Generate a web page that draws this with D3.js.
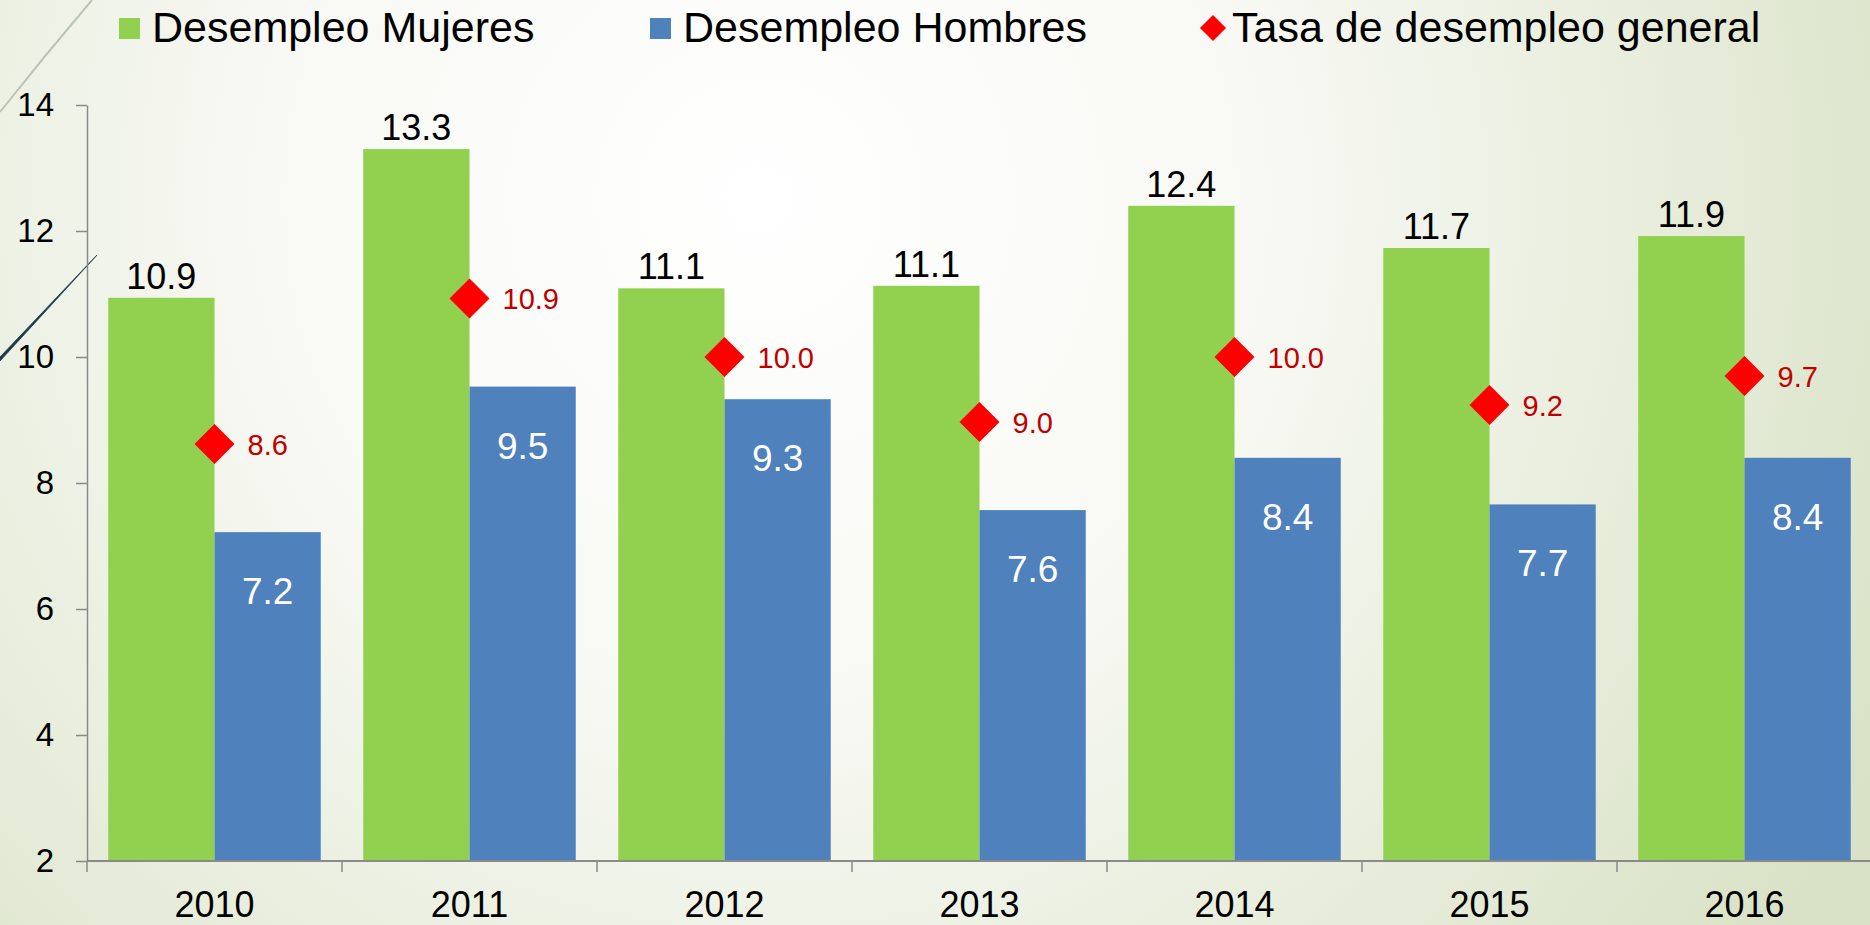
<!DOCTYPE html>
<html>
<head>
<meta charset="utf-8">
<title>Desempleo por sexo</title>
<script src="https://d3js.org/d3.v7.min.js"></script>
<style>
  html, body { margin: 0; padding: 0; overflow: hidden; }
  svg { display: block; font-family: "Liberation Sans", Arial, sans-serif; }
  .axis path, .axis line { stroke: #8a8a8a; stroke-width: 1.5px; }
  .axis text { fill: #000; }
</style>
</head>
<body>
<svg id="chart" width="1870" height="925"></svg>
<script>
// data
const years = ["2010", "2011", "2012", "2013", "2014", "2015", "2016"];
const mujeres = [10.94, 13.3, 11.09, 11.13, 12.4, 11.73, 11.92];
const hombres = [7.22, 9.53, 9.33, 7.57, 8.4, 7.66, 8.4];
const general = [8.62, 10.93, 10.0, 8.97, 10.0, 9.24, 9.7];
const yTicks = [2, 4, 6, 8, 10, 12, 14];
const seriesNames = ["Desempleo Mujeres", "Desempleo Hombres", "Tasa de desempleo general"];

const green = "#92d050", blue = "#4f81bd", red = "#ff0000", darkRed = "#c00000";

const svg = d3.select("#chart");
const width = +svg.attr("width");
const height = +svg.attr("height");

// background gradient like the slide theme
const defs = svg.append("defs");
const grad = defs.append("radialGradient")
  .attr("id", "bg").attr("gradientUnits", "userSpaceOnUse")
  .attr("cx", 760).attr("cy", 200).attr("r", 1250);
grad.append("stop").attr("offset", "0%").attr("stop-color", "#ffffff");
grad.append("stop").attr("offset", "40%").attr("stop-color", "#f8f9f4");
grad.append("stop").attr("offset", "100%").attr("stop-color", "#d9e2c6");
svg.append("rect").attr("width", width).attr("height", height).attr("fill", "url(#bg)");

// decorative theme lines
svg.append("path")
  .attr("d", "M0,112 Q45,55 92,0")
  .attr("fill", "none").attr("stroke", "#b9c4b6").attr("stroke-width", 2);
svg.append("path")
  .attr("d", "M0,357 L0,361 L97,255 Z")
  .attr("fill", "#1e3a4c").attr("stroke", "#1e3a4c").attr("stroke-width", 0.8);

const plotLeft = 87, plotRight = 1872, plotTop = 105, plotBottom = 861;

const x0 = d3.scaleBand().domain(years).range([plotLeft, plotRight]).padding(0);
const x1 = d3.scaleBand().domain(["m", "h"]).range([0, x0.bandwidth()])
  .paddingInner(0).paddingOuter(0.2);
const y = d3.scaleLinear().domain([2, 14]).range([plotBottom, plotTop]);

// y axis
const yAxis = svg.append("g").attr("class", "axis")
  .attr("transform", `translate(${plotLeft},0)`)
  .call(d3.axisLeft(y).tickValues(yTicks).tickSize(11).tickSizeOuter(0).tickPadding(22));
yAxis.selectAll("text").style("font-size", "33px");

// bars
const groups = svg.append("g").selectAll("g")
  .data(years)
  .join("g")
  .attr("transform", d => `translate(${x0(d)},0)`);

groups.append("rect")
  .attr("x", x1("m"))
  .attr("width", x1.bandwidth())
  .attr("y", (d, i) => y(mujeres[i]))
  .attr("height", (d, i) => y(2) - y(mujeres[i]))
  .attr("fill", green);

groups.append("rect")
  .attr("x", x1("h"))
  .attr("width", x1.bandwidth())
  .attr("y", (d, i) => y(hombres[i]))
  .attr("height", (d, i) => y(2) - y(hombres[i]))
  .attr("fill", blue);

// x axis line + boundary ticks
svg.append("line")
  .attr("x1", plotLeft).attr("x2", width)
  .attr("y1", plotBottom).attr("y2", plotBottom)
  .attr("stroke", "#8a8a8a").attr("stroke-width", 2);
svg.append("g").selectAll("line")
  .data(years.concat(["end"]))
  .join("line")
  .attr("x1", d => d === "end" ? plotRight : x0(d))
  .attr("x2", d => d === "end" ? plotRight : x0(d))
  .attr("y1", plotBottom).attr("y2", plotBottom + 11)
  .attr("stroke", "#8a8a8a").attr("stroke-width", 1.5);

svg.append("g").selectAll("text")
  .data(years)
  .join("text")
  .attr("x", d => x0(d) + x0.bandwidth() / 2)
  .attr("y", 917)
  .attr("text-anchor", "middle")
  .style("font-size", "36px")
  .text(d => d);

// labels on bars
groups.append("text")
  .attr("x", x1("m") + x1.bandwidth() / 2)
  .attr("y", (d, i) => y(mujeres[i]) - 9)
  .attr("text-anchor", "middle")
  .style("font-size", "36px")
  .text((d, i) => mujeres[i].toFixed(1));

groups.append("text")
  .attr("x", x1("h") + x1.bandwidth() / 2)
  .attr("y", (d, i) => y(hombres[i]) + 72)
  .attr("text-anchor", "middle")
  .attr("fill", "#fff")
  .style("font-size", "37px")
  .text((d, i) => hombres[i].toFixed(1));

// general rate markers
const diamond = d3.symbol().type(d3.symbolSquare).size(800);
groups.append("path")
  .attr("d", diamond)
  .attr("transform", (d, i) => `translate(${x0.bandwidth() / 2},${y(general[i])}) rotate(45)`)
  .attr("fill", red);

groups.append("text")
  .attr("x", x0.bandwidth() / 2 + 33)
  .attr("y", (d, i) => y(general[i]) + 11)
  .attr("fill", darkRed)
  .style("font-size", "29px")
  .text((d, i) => general[i].toFixed(1));

// legend
const legend = svg.append("g");
const legendX = [119, 650, 1213];
legend.selectAll("rect")
  .data(seriesNames.slice(0, 2))
  .join("rect")
  .attr("x", (d, i) => legendX[i])
  .attr("y", 18)
  .attr("width", 21).attr("height", 21)
  .attr("fill", (d, i) => i === 0 ? green : blue);
legend.append("path")
  .attr("d", d3.symbol().type(d3.symbolSquare).size(340))
  .attr("transform", `translate(${legendX[2]},28) rotate(45)`)
  .attr("fill", red);
legend.selectAll("text")
  .data(seriesNames)
  .join("text")
  .attr("x", (d, i) => i < 2 ? legendX[i] + 33 : legendX[i] + 19)
  .attr("y", 42)
  .style("font-size", "43px")
  .text(d => d);
</script>
</body>
</html>
